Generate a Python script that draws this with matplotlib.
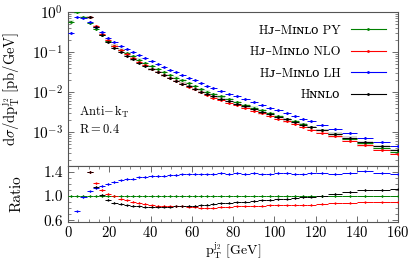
import numpy as np
import matplotlib
matplotlib.use('Agg')
import matplotlib.pyplot as plt
from matplotlib.lines import Line2D
from matplotlib.ticker import MultipleLocator, LogLocator, NullFormatter, FixedLocator

plt.rcParams['font.family'] = ['cmr10', 'DejaVu Serif']
plt.rcParams['mathtext.fontset'] = 'cm'
plt.rcParams['axes.formatter.use_mathtext'] = True
plt.rcParams['axes.unicode_minus'] = False

# ---- data ----
bin_edges = [0, 3, 6, 9, 12, 15, 18, 21, 24, 27, 30, 33, 36, 39, 42, 45, 48, 51, 54, 57,
             60, 63, 66, 69, 72, 76, 80, 84, 88, 92, 96, 100, 104, 108, 112, 116, 120,
             126, 133, 140, 148, 156, 164]

# Hj-MiNLO PY spectrum [pb/GeV]
py_vals = [0.575, 0.977, 0.741, 0.525, 0.372, 0.263, 0.191, 0.145, 0.115, 0.0933,
           0.0776, 0.0646, 0.0537, 0.0447, 0.0380, 0.0316, 0.0269, 0.0229, 0.0195, 0.0166,
           0.0141, 0.0120, 0.0102, 0.00891,
           0.00776, 0.00661, 0.00562, 0.00479, 0.00407, 0.00347, 0.00295, 0.00251,
           0.00214, 0.00182, 0.00155, 0.00132,
           0.00110, 0.000871, 0.000676, 0.000513, 0.000398, 0.000316]

nan = float('nan')
# ratios to Hj-MiNLO PY
ratio_lh = [0.53, 0.75, 0.98, 1.08, 1.13, 1.17, 1.20, 1.23, 1.26, 1.28, 1.29, 1.31, 1.32,
            1.33, 1.33, 1.34, 1.35, 1.35, 1.36, 1.36, 1.37, 1.36, 1.36, 1.37,
            1.38, 1.37, 1.38, 1.37, 1.38, 1.36, 1.36, 1.38, 1.38, 1.37, 1.36, 1.38,
            1.38, 1.37, 1.39, 1.41, 1.39, 1.37]
ratio_nlo = [nan, nan, nan, 1.40, 1.21, 1.10, 1.04, 1.00, 0.96, 0.93, 0.91, 0.89, 0.87,
             0.85, 0.84, 0.84, 0.83, 0.83, 0.83, 0.82, 0.82, 0.81, 0.81, 0.81,
             0.82, 0.82, 0.83, 0.83, 0.84, 0.84, 0.85, 0.85, 0.85, 0.86, 0.86, 0.86,
             0.87, 0.88, 0.89, 0.90, 0.90, 0.90]
ratio_hnnlo = [nan, nan, nan, 1.40, 1.15, 1.02, 0.94, 0.89, 0.87, 0.85, 0.84, 0.83, 0.82,
               0.82, 0.82, 0.82, 0.82, 0.83, 0.83, 0.84, 0.84, 0.85, 0.86, 0.87,
               0.88, 0.89, 0.90, 0.91, 0.92, 0.93, 0.94, 0.95, 0.96, 0.97, 0.98, 0.99,
               1.00, 1.04, 1.07, 1.10, 1.10, 1.11]

stat_rel = 0.03   # statistical error (relative)
band_rel = 0.07   # scale band (relative)

labels = ['Hᴊ–Mɪɴʟᴏ PY', 'Hᴊ–Mɪɴʟᴏ NLO', 'Hᴊ–Mɪɴʟᴏ LH', 'Hɴɴʟᴏ']
colors = ['#008000', '#ff0000', '#0000ff', '#000000']
light = ['#8fc88f', '#ff9090', '#9090ff', '#909090']

edges = np.array(bin_edges, dtype=float)
centers = 0.5 * (edges[1:] + edges[:-1])
halfw = 0.5 * (edges[1:] - edges[:-1])
py = np.array(py_vals)
ratios = [np.ones_like(py), np.array(ratio_nlo), np.array(ratio_lh), np.array(ratio_hnnlo)]
spectra = [py * r for r in ratios]

W, H = 415, 263
fig = plt.figure(figsize=(W / 100, H / 100), dpi=100)
L, R = 68 / W, 398 / W
ax = fig.add_axes([L, 1 - 166 / H, R - L, (166 - 12) / H])
axr = fig.add_axes([L, 1 - 222 / H, R - L, (222 - 166) / H], sharex=ax)

handles = []
for spec, col, lc, lab, r in zip(spectra, colors, light, labels, ratios):
    ok = ~np.isnan(spec)
    if col != '#0000ff':
        ax.bar(centers[ok], spec[ok] * 2 * band_rel, bottom=spec[ok] * (1 - band_rel),
               width=2 * halfw[ok], color=lc, alpha=0.35, linewidth=0, zorder=1)
    ax.errorbar(centers[ok], spec[ok], xerr=halfw[ok], yerr=spec[ok] * stat_rel,
                fmt='.', ms=2, color=col, elinewidth=0.7, capsize=0, lw=0.7, zorder=3)
    handles.append(Line2D([], [], color=col, lw=0.8, marker='.', ms=2))
    axr.errorbar(centers[ok], r[ok], xerr=halfw[ok], yerr=r[ok] * stat_rel * 0.35,
                 fmt='.', ms=1.2, color=col, elinewidth=0.7, capsize=0, zorder=3)

ax.set_yscale('log')
ax.set_ylim(1.4e-4, 1.0)
ax.set_xlim(0, 160)
ax.yaxis.set_major_locator(LogLocator(base=10, numticks=10))
ax.yaxis.set_minor_locator(LogLocator(base=10, subs=np.arange(2, 10) * 1.0, numticks=10))
ax.yaxis.set_minor_formatter(NullFormatter())
plt.setp(ax.get_xticklabels(), visible=False)

axr.set_ylim(0.57, 1.5)
axr.yaxis.set_major_locator(FixedLocator([0.6, 1.0, 1.4]))
axr.yaxis.set_minor_locator(MultipleLocator(0.1))
axr.set_yticklabels(['0.6', '1.0', '1.4'])
axr.xaxis.set_major_locator(MultipleLocator(20))
axr.xaxis.set_minor_locator(MultipleLocator(5))

for a in (ax, axr):
    a.tick_params(which='both', direction='in', top=True, right=True, labelsize=11,
                  color='#555555')
    a.tick_params(which='major', length=4, width=0.6)
    a.tick_params(which='minor', length=2, width=0.5)
    for s in a.spines.values():
        s.set_color('#555555')
        s.set_linewidth(0.8)
ax.tick_params(axis='x', which='both', length=0)
axr.tick_params(axis='x', pad=2, labelsize=10.5)

ax.set_ylabel(r'$\mathrm{d}\sigma/\mathrm{dp}_\mathrm{T}^{\mathrm{j}_2}\ [\mathrm{pb/GeV}]$',
              fontsize=10.5)
axr.set_ylabel('Ratio', fontsize=11)
ax.yaxis.set_label_coords(-0.135, 0.5)
axr.yaxis.set_label_coords(-0.135, 0.5)
fig.text((L + R) / 2, 2 / H, r'$\mathrm{p}_\mathrm{T}^{\mathrm{j}_2}\ [\mathrm{GeV}]$',
         fontsize=10, ha='center', va='bottom')

ax.text(0.033, 0.35, r'$\mathrm{Anti}\!-\!\mathrm{k_T}$', transform=ax.transAxes,
        fontsize=9, va='center', ha='left')
ax.text(0.033, 0.235, r'$\mathrm{R=0.4}$', transform=ax.transAxes,
        fontsize=9, va='center', ha='left')

ax.legend(handles, labels, loc='upper right', frameon=False, markerfirst=False,
          fontsize=9, handlelength=2.8, labelspacing=0.75, borderaxespad=0.6,
          handletextpad=0.8)

fig.savefig('out.png', dpi=100)
